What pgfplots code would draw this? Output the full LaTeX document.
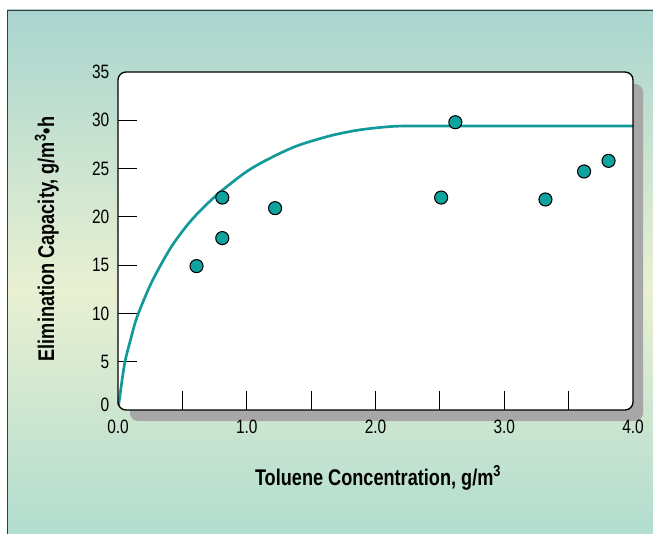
\documentclass[border=0pt]{standalone}
\usepackage{fontspec}
\setmainfont{Liberation Sans}[FakeStretch=0.8]
\usepackage{pgfplots}
\pgfplotsset{compat=1.18}
\definecolor{bgTop}{HTML}{A9D5CF}
\definecolor{bgMid}{HTML}{E9F0D2}
\definecolor{bgBot}{HTML}{B0DCCF}
\definecolor{frame}{HTML}{3A3A3A}
\definecolor{shadowgray}{HTML}{A7A7A7}
\definecolor{curvecol}{HTML}{12999A}
\definecolor{ptcol}{HTML}{0FA3A0}
\begin{document}
\begin{tikzpicture}[x=0.75pt,y=-0.75pt]
\path[use as bounding box] (0,0) rectangle (653,534);
\begin{scope}
\clip (0,0) rectangle (653,534);
\shade[top color=bgTop, bottom color=bgMid] (7,10) rectangle (660,290.5);
\shade[top color=bgMid, bottom color=bgBot] (7,290) rectangle (660,540);
\draw[line width=1.2pt, draw=frame] (7.5,540) -- (7.5,10.5) -- (660,10.5);
\end{scope}
\fill[shadowgray, rounded corners=6pt] (130,84) rectangle (643,421);
\fill[white, rounded corners=6pt] (118,72) rectangle (633,410);
\begin{axis}[
  at={(88.5pt,-307.5pt)}, anchor=south west,
  scale only axis, width=386.25pt, height=253.5pt,
  xmin=0, xmax=4, ymin=0, ymax=35,
  axis line style={draw=none},
  xtick pos=bottom, ytick pos=left,
  tick align=inside,
  major tick length=14pt,
  tick style={black, line width=0.9pt},
  xtick={0.5,1,1.5,2,2.5,3,3.5},
  xticklabels={,1.0,,2.0,,3.0,},
  extra x ticks={0,4},
  extra x tick labels={0.0,4.0},
  extra x tick style={major tick length=0pt},
  ytick={5,10,15,20,25,30},
  yticklabels={5,10,15,20,25,30},
  extra y ticks={0.5,35},
  extra y tick labels={0,35},
  extra y tick style={major tick length=0pt},
  ticklabel style={font=\fontsize{14.5}{16}\selectfont, text=black},
  xticklabel style={yshift=-4pt},
  yticklabel style={xshift=-3pt},
  xlabel={Toluene Concentration, g/m\textsuperscript{3}},
  ylabel={Elimination Capacity, g/m\textsuperscript{3}•h},
  label style={font=\fontsize{17}{20}\selectfont\bfseries},
  xlabel style={at={(axis description cs:0.505,-0.201)}, anchor=center},
  ylabel style={at={(axis description cs:-0.138,0.506)}, anchor=center},
  clip=false,
]
\addplot[curvecol, line width=2pt, smooth] coordinates {
(0.005,0.5) (0.05,4.7) (0.1,7.4) (0.15,9.7) (0.26,13.2) (0.4,16.6) (0.5,18.5)
(0.6,20.1) (0.77,22.3) (1.0,24.7) (1.2,26.2) (1.4,27.4) (1.65,28.4) (1.85,28.95)
(2.03,29.25) (2.2,29.4) (2.6,29.4) (4.0,29.4)};
\addplot[only marks, mark=*, mark size=4.9pt,
  mark options={fill=ptcol, draw=black, line width=0.8pt}] coordinates {
(0.61,14.9) (0.81,22.0) (0.81,17.8) (1.22,20.9) (2.51,22.0) (2.62,29.8)
(3.32,21.8) (3.62,24.7) (3.81,25.8)};
\end{axis}
\draw[black, line width=1pt, rounded corners=6pt] (118,72) rectangle (633,410);
\end{tikzpicture}
\end{document}
